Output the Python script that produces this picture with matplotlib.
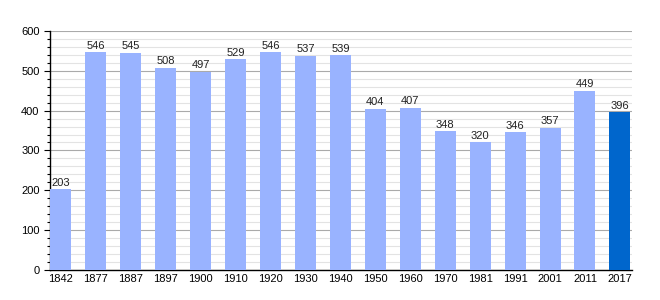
import matplotlib
matplotlib.use("Agg")
import matplotlib.pyplot as plt
from matplotlib.ticker import MultipleLocator

years = ["1842", "1877", "1887", "1897", "1900", "1910", "1920", "1930", "1940",
         "1950", "1960", "1970", "1981", "1991", "2001", "2011", "2017"]
values = [203, 546, 545, 508, 497, 529, 546, 537, 539,
          404, 407, 348, 320, 346, 357, 449, 396]
colors = ["#99b3ff"] * (len(years) - 1) + ["#0066cc"]

plt.rcParams['font.family'] = ['Liberation Sans', 'DejaVu Sans']
fig = plt.figure(figsize=(6.6, 3.0), dpi=100)
ax = fig.add_axes([0.0758, 0.1, 0.882, 0.797])

x = list(range(len(years)))
bars = ax.bar(x, values, width=0.6, color=colors, zorder=3)
for xi, v in zip(x, values):
    ax.text(xi, v + 4, str(v), ha='center', va='bottom', fontsize=8, color='#222222', zorder=4)

ax.set_ylim(0, 600)
ax.set_xlim(-0.31, 16.35)
ax.set_xticks(x)
ax.set_xticklabels(years, fontsize=8)
ax.yaxis.set_major_locator(MultipleLocator(100))
ax.yaxis.set_minor_locator(MultipleLocator(20))
ax.tick_params(axis='y', labelsize=8, length=4, width=0.8)
ax.tick_params(axis='y', which='minor', length=2.5, width=0.8)
ax.tick_params(axis='x', length=0, pad=3)
ax.grid(axis='y', which='major', color='#aaaaaa', linewidth=0.8, zorder=0)
ax.grid(axis='y', which='minor', color='#e3e3e3', linewidth=0.8, zorder=0)
for s in ['top', 'right']:
    ax.spines[s].set_visible(False)
ax.spines['left'].set_linewidth(1)
ax.spines['bottom'].set_linewidth(1)

fig.savefig("out.png", dpi=100)
